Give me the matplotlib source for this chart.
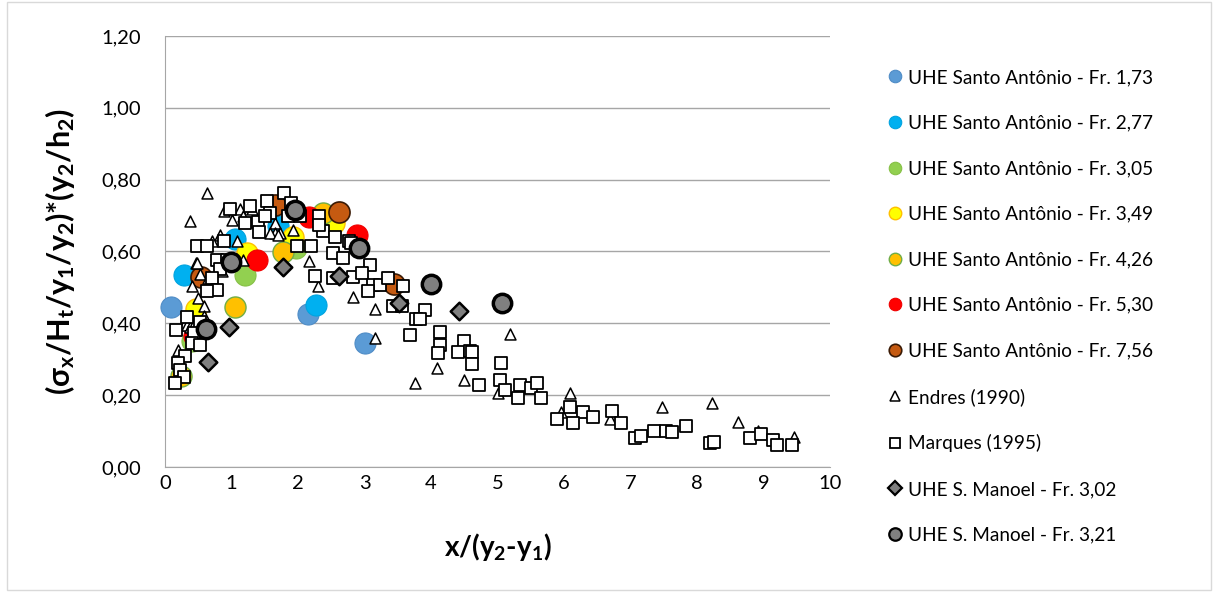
import matplotlib
matplotlib.use("Agg")
import matplotlib.pyplot as plt
from matplotlib.lines import Line2D
from matplotlib.patches import Rectangle
from matplotlib.ticker import FuncFormatter, MultipleLocator

plt.rcParams['font.family'] = ['Lato', 'DejaVu Sans']
plt.rcParams['mathtext.default'] = 'regular'

# UHE Santo Antônio series (x/(y2-y1), dimensionless sigma)
sa_173_x = [0.09, 2.15, 3.00]
sa_173_y = [0.445, 0.425, 0.345]
sa_277_x = [0.28, 1.05, 1.70, 2.27]
sa_277_y = [0.535, 0.635, 0.670, 0.450]
sa_305_x = [0.40, 1.20, 1.97]
sa_305_y = [0.350, 0.535, 0.610]
sa_349_x = [0.46, 1.24, 1.92, 2.54]
sa_349_y = [0.440, 0.595, 0.640, 0.680]
sa_426_x = [0.24, 1.06, 1.77, 2.38]
sa_426_y = [0.253, 0.445, 0.600, 0.708]
sa_530_x = [0.43, 1.38, 2.17, 2.88]
sa_530_y = [0.366, 0.575, 0.697, 0.647]
sa_756_x = [0.54, 1.65, 2.61, 3.44]
sa_756_y = [0.528, 0.730, 0.709, 0.510]

# Endres (1990)
endres_x = [0.63, 0.38, 0.88, 1.01, 1.13, 1.31, 1.18, 0.83, 0.71, 1.08,
            0.46, 1.18, 1.65, 1.65, 1.58, 1.73, 1.93, 0.48, 2.16, 2.30,
            0.53, 0.65, 0.85, 0.40, 0.50, 0.58, 0.28, 0.33, 0.38, 0.45,
            0.20, 0.23, 2.83, 3.16, 3.16, 4.09, 3.76, 4.49, 5.19, 5.01,
            6.09, 5.96, 6.69, 7.47, 8.23, 8.61, 8.91, 9.46, 1.70, 0.58]
endres_y = [0.763, 0.684, 0.712, 0.689, 0.717, 0.717, 0.698, 0.647, 0.628, 0.628,
            0.568, 0.577, 0.680, 0.652, 0.652, 0.652, 0.661, 0.568, 0.573, 0.503,
            0.536, 0.526, 0.545, 0.503, 0.470, 0.447, 0.396, 0.396, 0.391, 0.405,
            0.326, 0.289, 0.473, 0.440, 0.359, 0.275, 0.235, 0.243, 0.371, 0.207,
            0.206, 0.154, 0.133, 0.168, 0.178, 0.124, 0.099, 0.083, 0.647, 0.420]

# Marques (1995)
marques_x = [1.79, 1.54, 1.90, 0.97, 1.28, 1.20, 1.40, 1.58, 1.85, 1.42,
             2.03, 2.31, 2.38, 2.56, 0.48, 0.63, 0.88, 1.98, 2.20, 2.53,
             0.78, 0.93, 2.26, 2.53, 0.83, 0.70, 0.78, 0.63, 0.33, 0.53,
             0.17, 0.43, 0.40, 0.53, 0.30, 0.20, 0.23, 0.29, 0.15, 2.76,
             2.68, 3.08, 2.83, 2.96, 3.13, 3.23, 3.06, 3.36, 3.58, 3.43,
             3.56, 3.91, 3.78, 3.83, 3.68, 4.14, 4.14, 4.10, 4.49, 4.41,
             4.59, 4.61, 4.61, 5.05, 4.72, 5.04, 5.11, 5.34, 5.51, 5.60,
             5.66, 5.31, 5.90, 6.09, 6.28, 6.14, 6.44, 6.72, 6.86, 7.07,
             7.16, 7.36, 7.53, 7.62, 7.83, 8.19, 8.26, 8.80, 8.96, 9.15,
             9.20, 9.43, 2.31, 1.50, 2.79]
marques_y = [0.763, 0.740, 0.735, 0.717, 0.726, 0.680, 0.681, 0.708, 0.698, 0.654,
             0.698, 0.698, 0.656, 0.640, 0.616, 0.616, 0.630, 0.615, 0.616, 0.596,
             0.577, 0.577, 0.531, 0.526, 0.550, 0.526, 0.494, 0.489, 0.419, 0.405,
             0.382, 0.373, 0.345, 0.340, 0.308, 0.289, 0.270, 0.250, 0.233, 0.628,
             0.582, 0.563, 0.529, 0.540, 0.508, 0.508, 0.489, 0.526, 0.503, 0.447,
             0.447, 0.438, 0.412, 0.412, 0.368, 0.375, 0.340, 0.317, 0.350, 0.319,
             0.322, 0.319, 0.287, 0.289, 0.227, 0.243, 0.215, 0.229, 0.220, 0.235,
             0.192, 0.192, 0.134, 0.168, 0.152, 0.122, 0.139, 0.157, 0.122, 0.082,
             0.085, 0.100, 0.100, 0.097, 0.115, 0.066, 0.069, 0.080, 0.092, 0.075,
             0.061, 0.061, 0.675, 0.698, 0.625]

# UHE S. Manoel series
sm_302_x = [0.64, 0.96, 1.78, 2.62, 3.52, 4.42]
sm_302_y = [0.293, 0.390, 0.558, 0.532, 0.458, 0.433]
sm_321_x = [0.61, 0.99, 1.96, 2.92, 4.00, 5.07]
sm_321_y = [0.383, 0.572, 0.715, 0.610, 0.510, 0.456]

series = [
    ("UHE Santo Antônio - Fr. 1,73", sa_173_x, sa_173_y, 'o', '#5B9BD5', '#4F8CC6', 0.8, 230),
    ("UHE Santo Antônio - Fr. 2,77", sa_277_x, sa_277_y, 'o', '#00B0F0', '#00A3DF', 0.8, 230),
    ("UHE Santo Antônio - Fr. 3,05", sa_305_x, sa_305_y, 'o', '#92D050', '#86C046', 0.8, 230),
    ("UHE Santo Antônio - Fr. 3,49", sa_349_x, sa_349_y, 'o', '#FFFF00', '#FFC000', 1.0, 230),
    ("UHE Santo Antônio - Fr. 4,26", sa_426_x, sa_426_y, 'o', '#FFC000', '#70AD47', 1.0, 230),
    ("UHE Santo Antônio - Fr. 5,30", sa_530_x, sa_530_y, 'o', '#FF0000', '#F00000', 0.8, 230),
    ("UHE Santo Antônio - Fr. 7,56", sa_756_x, sa_756_y, 'o', '#C55A11', '#3A1A05', 1.2, 230),
    ("Endres (1990)", endres_x, endres_y, '^', 'white', 'black', 1.1, 62),
    ("Marques (1995)", marques_x, marques_y, 's', 'white', 'black', 1.3, 75),
    ("UHE S. Manoel - Fr. 3,02", sm_302_x, sm_302_y, 'D', '#7F7F7F', 'black', 1.8, 80),
    ("UHE S. Manoel - Fr. 3,21", sm_321_x, sm_321_y, 'o', '#808080', 'black', 2.5, 175),
]

fig = plt.figure(figsize=(12.16, 5.92), dpi=100)
fig.patches.append(Rectangle((0.006, 0.003), 0.99, 0.994, transform=fig.transFigure,
                             fill=False, edgecolor='#D9D9D9', linewidth=1.0))
ax = fig.add_axes([165 / 1216, 125 / 592, 665 / 1216, 431 / 592])

handles = []
for i, (label, xs, ys, mk, fc, ec, lw, size) in enumerate(series):
    ax.scatter(xs, ys, marker=mk, s=size, facecolor=fc, edgecolor=ec,
               linewidths=lw, zorder=3 + i, clip_on=False)
    leg_ms = 9 if mk == 'o' else 7
    handles.append(Line2D([], [], linestyle='none', marker=mk, markersize=leg_ms,
                          markerfacecolor=fc, markeredgecolor=ec,
                          markeredgewidth=min(lw, 1.6), label=label))

ax.set_xlim(0, 10)
ax.set_ylim(0, 1.2)
ax.xaxis.set_major_locator(MultipleLocator(1))
ax.yaxis.set_major_locator(MultipleLocator(0.2))
ax.yaxis.set_major_formatter(FuncFormatter(lambda v, p: f"{v:.2f}".replace('.', ',')))
ax.grid(axis='y', color='#A6A6A6', linewidth=1.0, zorder=0)
ax.set_axisbelow(True)
for side in ('top', 'right'):
    ax.spines[side].set_visible(False)
ax.spines['left'].set_color('#A6A6A6')
ax.spines['bottom'].set_color('#A6A6A6')
ax.tick_params(length=0, labelsize=14.5, colors='black', pad=6)
ax.tick_params(axis='y', pad=17)

ax.set_xlabel('x/(y$_2$-y$_1$)', fontsize=20, fontweight='bold', color='black', labelpad=28)
ax.set_ylabel('(σ$_x$/H$_t$/y$_1$/y$_2$)*(y$_2$/h$_2$)', fontsize=22, fontweight='bold',
              color='black', labelpad=18)

fig.legend(handles=handles, loc='upper left', bbox_to_anchor=(866 / 1216, 1 - 52 / 592),
           frameon=False, fontsize=13.7, labelspacing=1.5, handletextpad=0.1,
           handlelength=1.2, labelcolor='black')

fig.savefig('out.png', dpi=100)
